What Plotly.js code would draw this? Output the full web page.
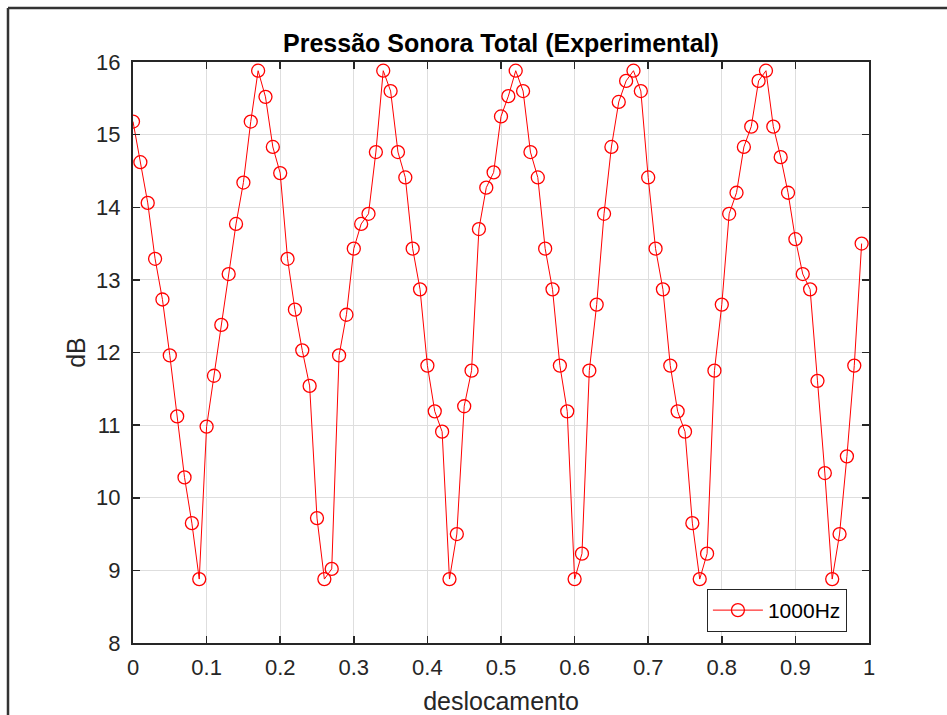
<!DOCTYPE html>
<html>
<head>
<meta charset="utf-8">
<script src="https://cdn.plot.ly/plotly-3.0.1.min.js"></script>
<style>
html,body{margin:0;padding:0;background:#fff;}
#chart{width:947px;height:715px;}
</style>
</head>
<body>
<div id="chart"></div>
<script>
var deslocamento = [0.00,0.01,0.02,0.03,0.04,0.05,0.06,0.07,0.08,0.09,
  0.10,0.11,0.12,0.13,0.14,0.15,0.16,0.17,0.18,0.19,
  0.20,0.21,0.22,0.23,0.24,0.25,0.26,0.27,0.28,0.29,
  0.30,0.31,0.32,0.33,0.34,0.35,0.36,0.37,0.38,0.39,
  0.40,0.41,0.42,0.43,0.44,0.45,0.46,0.47,0.48,0.49,
  0.50,0.51,0.52,0.53,0.54,0.55,0.56,0.57,0.58,0.59,
  0.60,0.61,0.62,0.63,0.64,0.65,0.66,0.67,0.68,0.69,
  0.70,0.71,0.72,0.73,0.74,0.75,0.76,0.77,0.78,0.79,
  0.80,0.81,0.82,0.83,0.84,0.85,0.86,0.87,0.88,0.89,
  0.90,0.91,0.92,0.93,0.94,0.95,0.96,0.97,0.98,0.99];
var dB1000Hz = [15.18,14.62,14.06,13.29,12.73,11.96,11.12,10.28,9.65,8.88,
  10.98,11.68,12.38,13.08,13.77,14.34,15.18,15.88,15.52,14.83,
  14.47,13.29,12.59,12.03,11.54,9.72,8.88,9.02,11.96,12.52,
  13.43,13.77,13.91,14.76,15.88,15.60,14.76,14.41,13.43,12.87,
  11.82,11.19,10.91,8.88,9.50,11.26,11.75,13.70,14.27,14.48,
  15.25,15.53,15.88,15.60,14.76,14.41,13.43,12.87,11.82,11.19,
  8.88,9.23,11.75,12.66,13.91,14.83,15.45,15.74,15.88,15.60,
  14.41,13.43,12.87,11.82,11.19,10.91,9.65,8.88,9.23,11.75,
  12.66,13.91,14.20,14.83,15.11,15.74,15.88,15.11,14.69,14.20,
  13.56,13.08,12.87,11.61,10.34,8.88,9.50,10.57,11.82,13.50];
var xTicks = [0,0.1,0.2,0.3,0.4,0.5,0.6,0.7,0.8,0.9,1];
var xTickText = ['0','0.1','0.2','0.3','0.4','0.5','0.6','0.7','0.8','0.9','1'];
var yTicks = [8,9,10,11,12,13,14,15,16];

var trace = {
  x: deslocamento, y: dB1000Hz, type: 'scatter', mode: 'lines+markers',
  name: '1000Hz',
  line: {color: '#ff0000', width: 1},
  marker: {symbol: 'circle-open', size: 13, color: '#ff0000', line: {width: 1.3, color: '#ff0000'}}
};
var fontFam = 'Liberation Sans, Arial, sans-serif';
var layout = {
  width: 947, height: 715,
  margin: {l: 133, r: 78, t: 62, b: 72},
  paper_bgcolor: '#ffffff', plot_bgcolor: '#ffffff',
  font: {family: fontFam, color: '#262626', size: 21},
  title: {text: '<b>Pressão Sonora Total (Experimental)</b>', x: 0.529, xanchor: 'center', y: 0.94, yanchor: 'middle',
    font: {family: fontFam, size: 25, color: '#000000'}},
  xaxis: {range: [0, 1], tickvals: xTicks, ticktext: xTickText, ticks: 'inside', ticklen: 7, tickwidth: 1.5, tickcolor: '#262626',
    showline: true, linecolor: '#262626', linewidth: 2, mirror: 'ticks', showgrid: true, gridcolor: '#dedede', gridwidth: 1,
    zeroline: false, tickfont: {size: 22, color: '#262626'}, ticklabelstandoff: 4,
    title: {text: 'deslocamento', font: {size: 25, color: '#262626'}, standoff: 14}},
  yaxis: {range: [8, 16], tickvals: yTicks, ticks: 'inside', ticklen: 7, tickwidth: 1.5, tickcolor: '#262626',
    showline: true, linecolor: '#262626', linewidth: 2, mirror: 'ticks', showgrid: true, gridcolor: '#dedede', gridwidth: 1,
    zeroline: false, tickfont: {size: 22, color: '#262626'}, ticklabelstandoff: 6,
    title: {text: 'dB', font: {size: 25, color: '#262626'}, standoff: 3}},
  showlegend: true,
  legend: {x: 0.970, y: 0.019, xanchor: 'right', yanchor: 'bottom', bgcolor: '#ffffff', itemwidth: 50,
    bordercolor: '#262626', borderwidth: 1, font: {size: 21, color: '#000000'}},
  shapes: [
    {type: 'line', xref: 'paper', yref: 'paper', x0: (8-133)/736, x1: (8-133)/736, y0: (643-8)/581, y1: (643-720)/581,
      line: {color: '#333333', width: 2.5}},
    {type: 'line', xref: 'paper', yref: 'paper', x0: (8-133)/736, x1: (950-133)/736, y0: (643-8)/581, y1: (643-8)/581,
      line: {color: '#333333', width: 2.5}}
  ]
};
Plotly.newPlot('chart', [trace], layout, {displayModeBar: false, staticPlot: true});
</script>
</body>
</html>
